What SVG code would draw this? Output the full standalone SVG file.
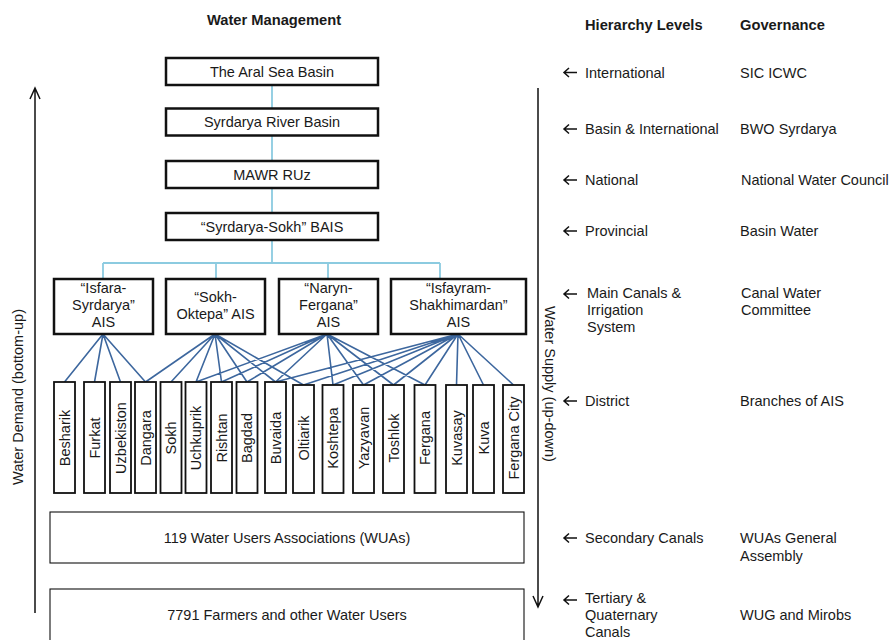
<svg xmlns="http://www.w3.org/2000/svg" width="892" height="640" viewBox="0 0 892 640">
<style>
text{font-family:"Liberation Sans",Arial,sans-serif;font-size:14.5px;fill:#1a1a1a}
.h{font-weight:bold;font-size:14.7px}
.m{text-anchor:middle}
.bx{fill:#fff;stroke:#111;stroke-width:2.5}
.ds{fill:#fff;stroke:#111;stroke-width:1.8}
.wb{fill:#fff;stroke:#111;stroke-width:1.1}
.lb{stroke:#8ccbe0;stroke-width:1.8;fill:none}
.dl{stroke:#3d679e;stroke-width:1.6;fill:none}
.ar{stroke:#111;stroke-width:1.5;fill:none}
</style>
<g id="headers">
<text class="h m" x="274" y="25">Water Management</text>
<text class="h" x="585" y="30">Hierarchy Levels</text>
<text class="h" x="740" y="30">Governance</text>
</g>
<g id="connectors">
<path class="lb" d="M272,85V108M272,136V161M272,188V213M272,240V263M103,263H440M103,263V279M216,263V279M328,263V279M440,263V279"/>
<path class="dl" d="M103,334L64.5,382M103,334L94.5,382M103,334L120.5,382M103,334L145.5,382
M215,334L145.5,382M215,334L171,382M215,334L196,382M215,334L221.5,382M215,334L247,382M215,334L275.5,382M215,334L303.5,385
M327,334L196,382M327,334L221.5,382M327,334L247,382M327,334L275.5,382M327,334L333,385M327,334L363.5,385M327,334L393.5,385M327,334L425,385
M458,334L275.5,382M458,334L303.5,385M458,334L333,385M458,334L363.5,385M458,334L393.5,385M458,334L425,385M458,334L456.5,385M458,334L483.5,385M458,334L513.5,385"/>
<path class="ar" d="M35,613V88M30,99L35,88L40,99"/>
<path class="ar" d="M538,88V607M533,596L538,607L543,596"/>
<path class="ar" d="M564,72.5H577M569,68L564,72.5L569,77M564,129H577M569,124.5L564,129L569,133.5M564,180H577M569,175.5L564,180L569,184.5M564,231H577M569,226.5L564,231L569,235.5M564,294H577M569,289.5L564,294L569,298.5M564,401H577M569,396.5L564,401L569,405.5M564,538H577M569,533.5L564,538L569,542.5M564,600H577M569,595.5L564,600L569,604.5"/>
</g>
<text class="m" transform="rotate(-90 18 397)" x="18" y="397" dy="5">Water Demand (bottom-up)</text>
<text class="m" transform="rotate(90 550 384)" x="550" y="384" dy="5">Water Supply (up-down)</text>
<g id="n-aral"><rect class="bx" x="166" y="58" width="212" height="27"/><text class="m" x="272" y="76.5">The Aral Sea Basin</text></g>
<g id="n-syr"><rect class="bx" x="166" y="108.5" width="212" height="27"/><text class="m" x="272" y="127">Syrdarya River Basin</text></g>
<g id="n-mawr"><rect class="bx" x="166" y="161" width="212" height="27"/><text class="m" x="272" y="179.5">MAWR RUz</text></g>
<g id="n-bais"><rect class="bx" x="166" y="213" width="212" height="27"/><text class="m" x="272" y="231.5">“Syrdarya-Sokh” BAIS</text></g>
<g id="n-isfara"><rect class="bx" x="54" y="279" width="99" height="55"/><text class="m" x="103.5" y="293">“Isfara-</text><text class="m" x="103.5" y="310">Syrdarya”</text><text class="m" x="103.5" y="327">AIS</text></g>
<g id="n-sokh"><rect class="bx" x="166" y="279" width="99" height="55"/><text class="m" x="215.5" y="301.5">“Sokh-</text><text class="m" x="215.5" y="318.5">Oktepa” AIS</text></g>
<g id="n-naryn"><rect class="bx" x="279" y="279" width="99" height="55"/><text class="m" x="328.5" y="293">“Naryn-</text><text class="m" x="328.5" y="310">Fergana”</text><text class="m" x="328.5" y="327">AIS</text></g>
<g id="n-isfayram"><rect class="bx" x="391" y="279" width="135" height="55"/><text class="m" x="458.5" y="293">“Isfayram-</text><text class="m" x="458.5" y="310">Shakhimardan”</text><text class="m" x="458.5" y="327">AIS</text></g>
<g id="districts">
<g id="d-besharik"><rect class="ds" x="54" y="382" width="21" height="111"/><text class="m" transform="rotate(-90 64.5 438)" x="64.5" y="438" dy="5">Besharik</text></g>
<g id="d-furkat"><rect class="ds" x="84" y="382" width="21" height="111"/><text class="m" transform="rotate(-90 94.5 438)" x="94.5" y="438" dy="5">Furkat</text></g>
<g id="d-uzbekiston"><rect class="ds" x="110" y="382" width="21" height="111"/><text class="m" transform="rotate(-90 120.5 438)" x="120.5" y="438" dy="5">Uzbekiston</text></g>
<g id="d-dangara"><rect class="ds" x="135" y="382" width="21" height="111"/><text class="m" transform="rotate(-90 145.5 438)" x="145.5" y="438" dy="5">Dangara</text></g>
<g id="d-sokh"><rect class="ds" x="160.5" y="382" width="21" height="111"/><text class="m" transform="rotate(-90 171 438)" x="171" y="438" dy="5">Sokh</text></g>
<g id="d-uchkuprik"><rect class="ds" x="185.5" y="382" width="21" height="111"/><text class="m" transform="rotate(-90 196 438)" x="196" y="438" dy="5">Uchkuprik</text></g>
<g id="d-rishtan"><rect class="ds" x="211" y="382" width="21" height="111"/><text class="m" transform="rotate(-90 221.5 438)" x="221.5" y="438" dy="5">Rishtan</text></g>
<g id="d-bagdad"><rect class="ds" x="236.5" y="382" width="21" height="111"/><text class="m" transform="rotate(-90 247 438)" x="247" y="438" dy="5">Bagdad</text></g>
<g id="d-buvaida"><rect class="ds" x="265" y="382" width="21" height="111"/><text class="m" transform="rotate(-90 275.5 438)" x="275.5" y="438" dy="5">Buvaida</text></g>
<g id="d-oltiarik"><rect class="ds" x="293" y="385" width="21" height="108"/><text class="m" transform="rotate(-90 303.5 438)" x="303.5" y="438" dy="5">Oltiarik</text></g>
<g id="d-koshtepa"><rect class="ds" x="322.5" y="385" width="21" height="108"/><text class="m" transform="rotate(-90 333 438)" x="333" y="438" dy="5">Koshtepa</text></g>
<g id="d-yazyavan"><rect class="ds" x="353" y="385" width="21" height="108"/><text class="m" transform="rotate(-90 363.5 438)" x="363.5" y="438" dy="5">Yazyavan</text></g>
<g id="d-toshlok"><rect class="ds" x="383" y="385" width="21" height="108"/><text class="m" transform="rotate(-90 393.5 438)" x="393.5" y="438" dy="5">Toshlok</text></g>
<g id="d-fergana"><rect class="ds" x="414.5" y="385" width="21" height="108"/><text class="m" transform="rotate(-90 425 438)" x="425" y="438" dy="5">Fergana</text></g>
<g id="d-kuvasay"><rect class="ds" x="446" y="385" width="21" height="108"/><text class="m" transform="rotate(-90 456.5 438)" x="456.5" y="438" dy="5">Kuvasay</text></g>
<g id="d-kuva"><rect class="ds" x="473" y="385" width="21" height="108"/><text class="m" transform="rotate(-90 483.5 438)" x="483.5" y="438" dy="5">Kuva</text></g>
<g id="d-ferganacity"><rect class="ds" x="503" y="385" width="21" height="108"/><text class="m" transform="rotate(-90 513.5 438)" x="513.5" y="438" dy="5">Fergana City</text></g>
</g>
<g id="n-wua"><rect class="wb" x="50" y="512" width="474" height="51"/><text class="m" x="287" y="543">119 Water Users Associations (WUAs)</text></g>
<g id="n-farmers"><rect class="wb" x="50" y="589" width="474" height="60"/><text class="m" x="287" y="620">7791 Farmers and other Water Users</text></g>
<g id="levels">
<text x="585" y="78">International</text>
<text x="585" y="134">Basin &amp; International</text>
<text x="585" y="185">National</text>
<text x="585" y="236">Provincial</text>
<text x="587" y="298">Main Canals &amp;</text>
<text x="587" y="315">Irrigation</text>
<text x="587" y="332">System</text>
<text x="585" y="406">District</text>
<text x="585" y="543">Secondary Canals</text>
<text x="585" y="603">Tertiary &amp;</text>
<text x="585" y="620">Quaternary</text>
<text x="585" y="637">Canals</text>
</g>
<g id="governance">
<text x="740" y="78">SIC ICWC</text>
<text x="740" y="134">BWO Syrdarya</text>
<text x="741" y="185">National Water Council</text>
<text x="740" y="236">Basin Water</text>
<text x="741" y="298">Canal Water</text>
<text x="741" y="315">Committee</text>
<text x="740" y="406">Branches of AIS</text>
<text x="740" y="543">WUAs General</text>
<text x="740" y="561">Assembly</text>
<text x="740" y="620">WUG and Mirobs</text>
</g>
</svg>
